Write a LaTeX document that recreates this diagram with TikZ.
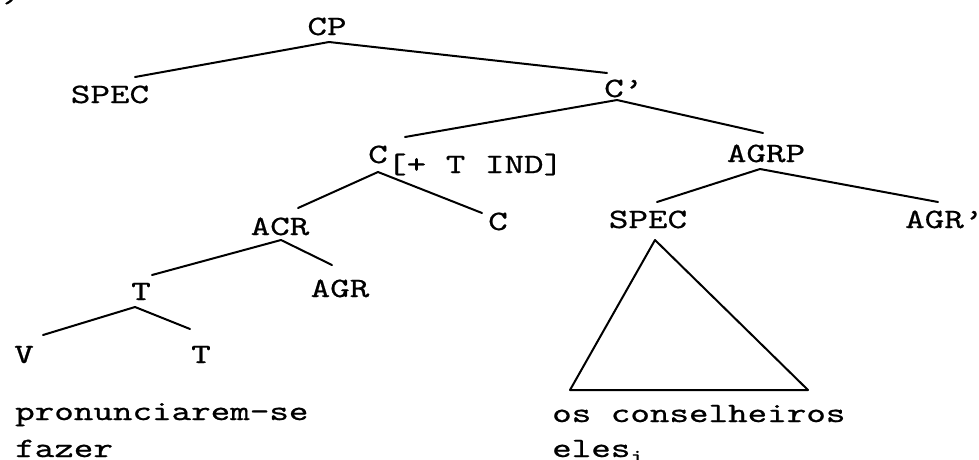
\documentclass[tikz,border=0pt]{standalone}
\usepackage{fontspec}
\newfontfamily\tw{lmmono10-regular}[Extension=.otf, FakeStretch=1.33, FakeBold=0.7]
\usetikzlibrary{calc}
\tikzset{
  lbl/.style={inner sep=0pt, font=\tw\fontsize{28}{33}\selectfont},
  branch/.style={line width=2pt, line cap=round, line join=round}
}
\begin{document}
\begin{tikzpicture}[x=1pt, y=-1pt]
\useasboundingbox (0,0) rectangle (979,459);
\clip (0,0) rectangle (979,459);

% example number, cut at the top edge
\node[lbl, anchor=base east] (num) at (22,2) {b)};

% labels
\node[lbl, anchor=base] (cp) at (327,35) {CP};
\node[lbl, anchor=base] (spec1) at (110,103) {SPEC};
\node[lbl, anchor=base west] (cbar) at (604,97) {C’};
\node[lbl, anchor=base] (c1) at (378,163) {C};
\node[lbl, anchor=base west] (c1feat) at (387,173) {[+ T IND]};
\node[lbl, anchor=base] (agrp) at (766,162) {AGRP};
\node[lbl, anchor=base] (acr) at (280,235) {ACR};
\node[lbl, anchor=base] (c2) at (498,230) {C};
\node[lbl, anchor=base] (spec2) at (648,228) {SPEC};
\node[lbl, anchor=base west] (agrbar) at (905,228) {AGR’};
\node[lbl, anchor=base] (t1) at (141,300) {T};
\node[lbl, anchor=base] (agr) at (340,297) {AGR};
\node[lbl, anchor=base] (v) at (24,363) {V};
\node[lbl, anchor=base] (t2) at (201,363) {T};

% words under the tree
\node[lbl, anchor=base west] (w1) at (15,420) {pronunciarem-se};
\node[lbl, anchor=base west] (w2) at (15,457) {fazer};
\node[lbl, anchor=base west] (w3) at (552,422) {os conselheiros};
\node[lbl, anchor=base west] (w4) at (552,457) {eles\raisebox{-6pt}{\fontsize{20}{24}\selectfont i}};

% branches
\draw[branch] ($(cp.base)+(2,7)$) -- ($(spec1.base)+(25,-26)$);
\draw[branch] ($(cp.base)+(2,7)$) -- ($(cbar.base west)+(3,-24)$);
\draw[branch] ($(cbar.base west)+(13,3)$) -- ($(c1.base)+(27,-26)$);
\draw[branch] ($(cbar.base west)+(13,3)$) -- ($(agrp.base)+(-3,-29)$);
\draw[branch] ($(c1.base)+(0,9)$) -- ($(acr.base)+(18,-27)$);
\draw[branch] ($(c1.base)+(0,9)$) -- ($(c2.base)+(-16,-17)$);
\draw[branch] ($(agrp.base)+(-6,7)$) -- ($(spec2.base)+(9,-26)$);
\draw[branch] ($(agrp.base)+(-6,7)$) -- ($(agrbar.base west)+(33,-26)$);
\draw[branch] ($(acr.base)+(1,5)$) -- ($(t1.base)+(11,-25)$);
\draw[branch] ($(acr.base)+(1,5)$) -- ($(agr.base)+(-8,-32)$);
\draw[branch] ($(t1.base)+(-6,7)$) -- ($(v.base)+(19,-28)$);
\draw[branch] ($(t1.base)+(-6,7)$) -- ($(t2.base)+(-11,-34)$);

% triangle over the SPEC phrase
\coordinate (apex) at ($(spec2.base)+(7,12)$);
\coordinate (baseL) at ($(w3.base west)+(18,-32)$);
\coordinate (baseR) at ($(w3.base west)+(256,-32)$);
\draw[branch] (apex) -- (baseL) -- (baseR) -- cycle;
\end{tikzpicture}
\end{document}
